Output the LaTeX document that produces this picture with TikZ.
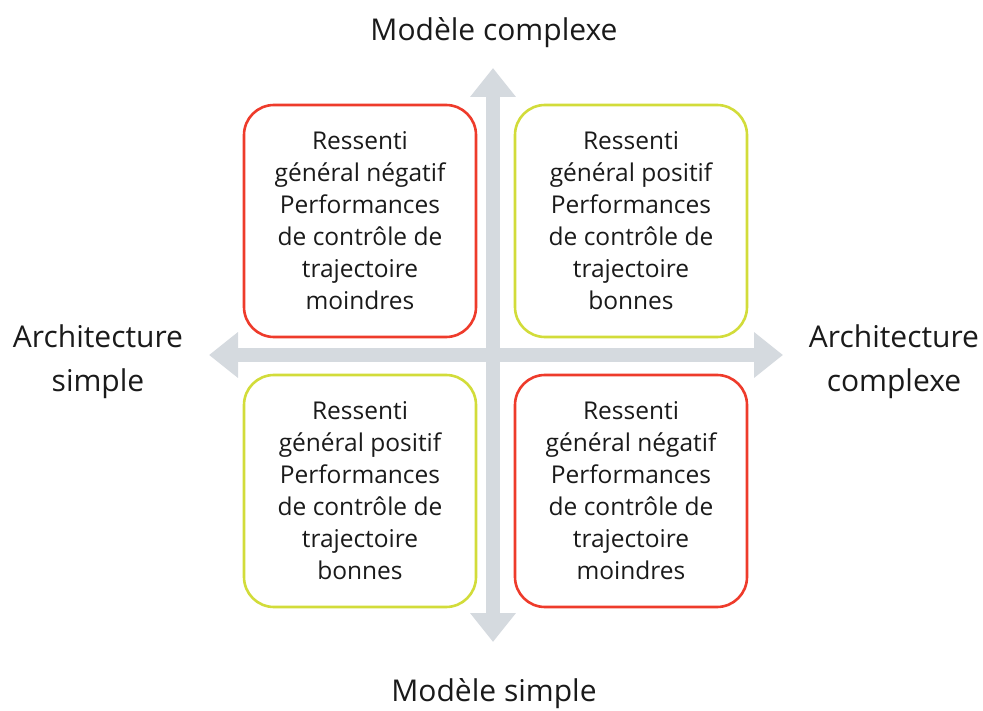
\documentclass[tikz,border=0pt]{standalone}
\usepackage{fontspec}
\setmainfont{Open Sans}
\usetikzlibrary{arrows.meta}
\definecolor{arrowgray}{HTML}{D5DADF}
\definecolor{boxred}{HTML}{EE3B2B}
\definecolor{boxyellow}{HTML}{D2DC3A}
\definecolor{txt}{HTML}{1A1A1A}
\tikzset{
  quad/.style={draw, line width=2.6pt, rounded corners=30pt, minimum width=232pt, minimum height=232pt, align=center, text=txt, font=\fontsize{24.5}{32}\selectfont, inner sep=0pt},
  redbox/.style={quad, draw=boxred},
  yelbox/.style={quad, draw=boxyellow},
  axislabel/.style={align=center, text=txt, font=\fontsize{30}{44}\selectfont},
  axis/.style={draw=arrowgray, line width=14pt, -{Triangle[length=29pt,width=44pt]}}
}
\begin{document}
\begin{tikzpicture}[x=1pt,y=-1pt]
\useasboundingbox (0,0) rectangle (983,711);
\coordinate (c) at (493,355);
\coordinate (top) at (493,68);
\coordinate (bot) at (493,642);
\coordinate (lft) at (209,355);
\coordinate (rgt) at (783,355);
\draw[axis, arrowgray] (c) -- (top);
\draw[axis, arrowgray] (c) -- (bot);
\draw[axis, arrowgray] (c) -- (lft);
\draw[axis, arrowgray] (c) -- (rgt);
\node[redbox] (tl) at (360,221) {Ressenti\\général négatif\\Performances\\de contrôle de\\trajectoire\\moindres};
\node[yelbox] (tr) at (631,221) {Ressenti\\général positif\\Performances\\de contrôle de\\trajectoire\\bonnes};
\node[yelbox] (bl) at (360,491) {Ressenti\\général positif\\Performances\\de contrôle de\\trajectoire\\bonnes};
\node[redbox] (br) at (631,491) {Ressenti\\général négatif\\Performances\\de contrôle de\\trajectoire\\moindres};
\node[axislabel] (lt) at (494,33) {Modèle complexe};
\node[axislabel] (lb) at (494,694) {Modèle simple};
\node[axislabel] (ll) at (98,362) {Architecture\\simple};
\node[axislabel] (lr) at (894,362) {Architecture\\complexe};
\end{tikzpicture}
\end{document}
